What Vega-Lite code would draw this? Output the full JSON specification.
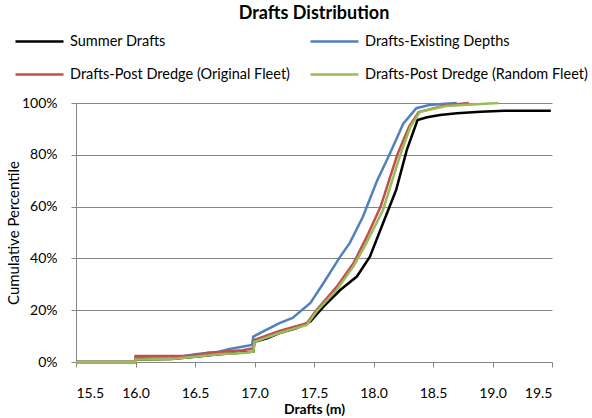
{
  "$schema": "https://vega.github.io/schema/vega-lite/v6.json",
  "width": 476,
  "height": 259,
  "autosize": "none",
  "padding": {"left": 76, "top": 103, "right": 40, "bottom": 56},
  "background": "white",
  "config": {"font": "Lato", "view": {"stroke": null}},
  "title": {"text": "Drafts Distribution", "fontSize": 18, "fontWeight": "bold", "font": "Lato", "color": "#000000", "anchor": "middle", "offset": -7},
  "data": {"values": [
    {"s": "Summer Drafts", "x": 15.5, "y": 0},
    {"s": "Summer Drafts", "x": 16.0, "y": 0},
    {"s": "Summer Drafts", "x": 16.001, "y": 0.01},
    {"s": "Summer Drafts", "x": 16.3, "y": 0.012},
    {"s": "Summer Drafts", "x": 16.5, "y": 0.02},
    {"s": "Summer Drafts", "x": 16.7, "y": 0.03},
    {"s": "Summer Drafts", "x": 16.85, "y": 0.035},
    {"s": "Summer Drafts", "x": 16.99, "y": 0.04},
    {"s": "Summer Drafts", "x": 17.0, "y": 0.078},
    {"s": "Summer Drafts", "x": 17.1, "y": 0.09},
    {"s": "Summer Drafts", "x": 17.21, "y": 0.112},
    {"s": "Summer Drafts", "x": 17.35, "y": 0.13},
    {"s": "Summer Drafts", "x": 17.47, "y": 0.156},
    {"s": "Summer Drafts", "x": 17.58, "y": 0.214},
    {"s": "Summer Drafts", "x": 17.72, "y": 0.278},
    {"s": "Summer Drafts", "x": 17.86, "y": 0.33},
    {"s": "Summer Drafts", "x": 17.97, "y": 0.407},
    {"s": "Summer Drafts", "x": 18.08, "y": 0.536},
    {"s": "Summer Drafts", "x": 18.19, "y": 0.664},
    {"s": "Summer Drafts", "x": 18.28, "y": 0.819},
    {"s": "Summer Drafts", "x": 18.37, "y": 0.934},
    {"s": "Summer Drafts", "x": 18.45, "y": 0.945},
    {"s": "Summer Drafts", "x": 18.56, "y": 0.954},
    {"s": "Summer Drafts", "x": 18.7, "y": 0.96},
    {"s": "Summer Drafts", "x": 18.9, "y": 0.966},
    {"s": "Summer Drafts", "x": 19.1, "y": 0.97},
    {"s": "Summer Drafts", "x": 19.49, "y": 0.97},
    {"s": "Drafts-Existing Depths", "x": 15.5, "y": 0},
    {"s": "Drafts-Existing Depths", "x": 16.0, "y": 0},
    {"s": "Drafts-Existing Depths", "x": 16.001, "y": 0.02},
    {"s": "Drafts-Existing Depths", "x": 16.4, "y": 0.022},
    {"s": "Drafts-Existing Depths", "x": 16.5, "y": 0.03},
    {"s": "Drafts-Existing Depths", "x": 16.7, "y": 0.04},
    {"s": "Drafts-Existing Depths", "x": 16.79, "y": 0.05},
    {"s": "Drafts-Existing Depths", "x": 16.98, "y": 0.066},
    {"s": "Drafts-Existing Depths", "x": 16.99, "y": 0.098},
    {"s": "Drafts-Existing Depths", "x": 17.07, "y": 0.117},
    {"s": "Drafts-Existing Depths", "x": 17.21, "y": 0.15},
    {"s": "Drafts-Existing Depths", "x": 17.32, "y": 0.17},
    {"s": "Drafts-Existing Depths", "x": 17.47, "y": 0.228},
    {"s": "Drafts-Existing Depths", "x": 17.58, "y": 0.305},
    {"s": "Drafts-Existing Depths", "x": 17.72, "y": 0.407},
    {"s": "Drafts-Existing Depths", "x": 17.8, "y": 0.459},
    {"s": "Drafts-Existing Depths", "x": 17.91, "y": 0.56},
    {"s": "Drafts-Existing Depths", "x": 18.03, "y": 0.7},
    {"s": "Drafts-Existing Depths", "x": 18.14, "y": 0.807},
    {"s": "Drafts-Existing Depths", "x": 18.25, "y": 0.92},
    {"s": "Drafts-Existing Depths", "x": 18.36, "y": 0.98},
    {"s": "Drafts-Existing Depths", "x": 18.47, "y": 0.992},
    {"s": "Drafts-Existing Depths", "x": 18.6, "y": 0.997},
    {"s": "Drafts-Existing Depths", "x": 18.7, "y": 1.0},
    {"s": "Drafts-Post Dredge (Original Fleet)", "x": 15.5, "y": 0},
    {"s": "Drafts-Post Dredge (Original Fleet)", "x": 16.0, "y": 0},
    {"s": "Drafts-Post Dredge (Original Fleet)", "x": 16.001, "y": 0.023},
    {"s": "Drafts-Post Dredge (Original Fleet)", "x": 16.4, "y": 0.023},
    {"s": "Drafts-Post Dredge (Original Fleet)", "x": 16.5, "y": 0.025},
    {"s": "Drafts-Post Dredge (Original Fleet)", "x": 16.6, "y": 0.035},
    {"s": "Drafts-Post Dredge (Original Fleet)", "x": 16.9, "y": 0.045},
    {"s": "Drafts-Post Dredge (Original Fleet)", "x": 16.99, "y": 0.053},
    {"s": "Drafts-Post Dredge (Original Fleet)", "x": 17.0, "y": 0.085},
    {"s": "Drafts-Post Dredge (Original Fleet)", "x": 17.21, "y": 0.12},
    {"s": "Drafts-Post Dredge (Original Fleet)", "x": 17.44, "y": 0.15},
    {"s": "Drafts-Post Dredge (Original Fleet)", "x": 17.52, "y": 0.2},
    {"s": "Drafts-Post Dredge (Original Fleet)", "x": 17.69, "y": 0.29},
    {"s": "Drafts-Post Dredge (Original Fleet)", "x": 17.83, "y": 0.38},
    {"s": "Drafts-Post Dredge (Original Fleet)", "x": 17.94, "y": 0.48},
    {"s": "Drafts-Post Dredge (Original Fleet)", "x": 18.06, "y": 0.6},
    {"s": "Drafts-Post Dredge (Original Fleet)", "x": 18.2, "y": 0.8},
    {"s": "Drafts-Post Dredge (Original Fleet)", "x": 18.3, "y": 0.91},
    {"s": "Drafts-Post Dredge (Original Fleet)", "x": 18.38, "y": 0.965},
    {"s": "Drafts-Post Dredge (Original Fleet)", "x": 18.6, "y": 0.99},
    {"s": "Drafts-Post Dredge (Original Fleet)", "x": 18.8, "y": 1.0},
    {"s": "Drafts-Post Dredge (Random Fleet)", "x": 15.5, "y": 0},
    {"s": "Drafts-Post Dredge (Random Fleet)", "x": 16.0, "y": 0},
    {"s": "Drafts-Post Dredge (Random Fleet)", "x": 16.001, "y": 0.01},
    {"s": "Drafts-Post Dredge (Random Fleet)", "x": 16.3, "y": 0.012},
    {"s": "Drafts-Post Dredge (Random Fleet)", "x": 16.5, "y": 0.02},
    {"s": "Drafts-Post Dredge (Random Fleet)", "x": 16.7, "y": 0.03},
    {"s": "Drafts-Post Dredge (Random Fleet)", "x": 16.9, "y": 0.035},
    {"s": "Drafts-Post Dredge (Random Fleet)", "x": 16.99, "y": 0.04},
    {"s": "Drafts-Post Dredge (Random Fleet)", "x": 17.0, "y": 0.078},
    {"s": "Drafts-Post Dredge (Random Fleet)", "x": 17.21, "y": 0.112},
    {"s": "Drafts-Post Dredge (Random Fleet)", "x": 17.44, "y": 0.143},
    {"s": "Drafts-Post Dredge (Random Fleet)", "x": 17.52, "y": 0.194},
    {"s": "Drafts-Post Dredge (Random Fleet)", "x": 17.69, "y": 0.278},
    {"s": "Drafts-Post Dredge (Random Fleet)", "x": 17.83, "y": 0.368},
    {"s": "Drafts-Post Dredge (Random Fleet)", "x": 17.94, "y": 0.459},
    {"s": "Drafts-Post Dredge (Random Fleet)", "x": 18.08, "y": 0.587},
    {"s": "Drafts-Post Dredge (Random Fleet)", "x": 18.22, "y": 0.793},
    {"s": "Drafts-Post Dredge (Random Fleet)", "x": 18.31, "y": 0.908},
    {"s": "Drafts-Post Dredge (Random Fleet)", "x": 18.39, "y": 0.966},
    {"s": "Drafts-Post Dredge (Random Fleet)", "x": 18.61, "y": 0.988},
    {"s": "Drafts-Post Dredge (Random Fleet)", "x": 18.9, "y": 0.996},
    {"s": "Drafts-Post Dredge (Random Fleet)", "x": 19.05, "y": 1.0}
  ]},
  "mark": {"type": "line", "strokeWidth": 2.5, "interpolate": "linear"},
  "encoding": {
    "x": {"field": "x", "type": "quantitative",
      "scale": {"domain": [15.5, 19.5], "nice": false, "zero": false},
      "axis": {"values": [15.5, 16.0, 16.5, 17.0, 17.5, 18.0, 18.5, 19.0, 19.5], "format": ".1f", "grid": false,
        "title": "Drafts (m)", "titleFontSize": 14, "titleFontWeight": "bold", "titleColor": "#000000", "titlePadding": 2,
        "labelFontSize": 14, "labelColor": "#000000", "labelPadding": 19, "labelFont": "Lato", "titleFont": "Lato",
        "domainColor": "#868686", "tickColor": "#868686", "tickSize": 5}},
    "y": {"field": "y", "type": "quantitative",
      "scale": {"domain": [0, 1], "nice": false},
      "axis": {"values": [0, 0.2, 0.4, 0.6, 0.8, 1.0], "format": ".0%", "grid": true, "gridColor": "#868686", "gridWidth": 1,
        "title": "Cumulative Percentile", "titleFontSize": 15, "titleFontWeight": "normal", "titleColor": "#000000", "titlePadding": 0,
        "labelFontSize": 14, "labelColor": "#000000", "labelPadding": 14, "labelFont": "Lato", "titleFont": "Lato",
        "domainColor": "#868686", "tickColor": "#868686", "tickSize": 5}},
    "color": {"field": "s", "type": "nominal",
      "scale": {"domain": ["Summer Drafts", "Drafts-Existing Depths", "Drafts-Post Dredge (Original Fleet)", "Drafts-Post Dredge (Random Fleet)"],
        "range": ["#000000", "#4F81BD", "#C0504D", "#9BBB59"]},
      "legend": {"orient": "none", "legendX": -62, "legendY": -87, "columns": 2, "direction": "horizontal", "title": null,
        "symbolType": "stroke", "symbolSize": 2304, "symbolStrokeWidth": 2.5, "labelFontSize": 14.5, "labelColor": "#000000",
        "labelFont": "Lato", "columnPadding": 15, "rowPadding": 1, "labelOffset": 5, "labelLimit": 400}}
  }
}
